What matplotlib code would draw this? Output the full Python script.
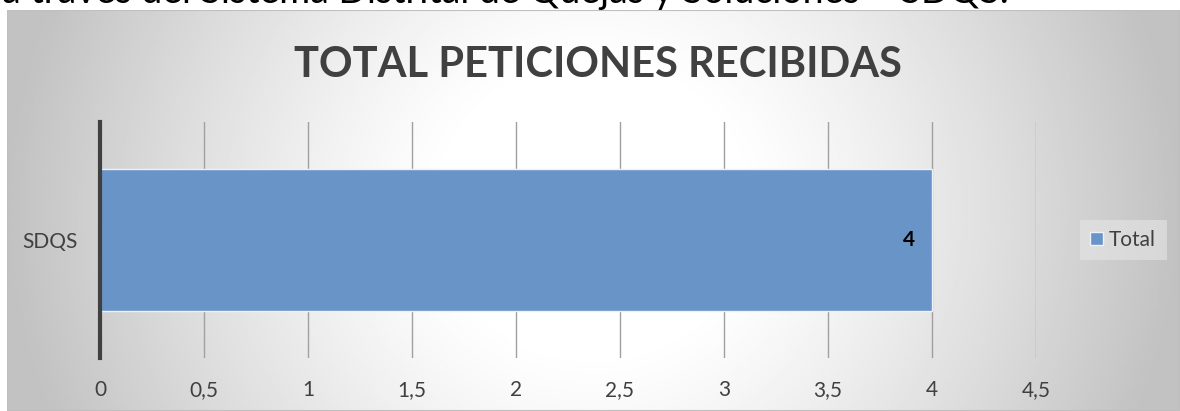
import numpy as np
import matplotlib
matplotlib.use("Agg")
import matplotlib.pyplot as plt
from matplotlib.patches import Rectangle

categorias = ["SDQS"]
valores = [4]
serie = "Total"
ticks_x = [0, 0.5, 1, 1.5, 2, 2.5, 3, 3.5, 4, 4.5]
etiquetas_x = ["0", "0,5", "1", "1,5", "2", "2,5", "3", "3,5", "4", "4,5"]
titulo = "TOTAL PETICIONES RECIBIDAS"
texto_superior = "a través del Sistema Distrital de Quejas y Soluciones – SDQS."

plt.rcParams['font.family'] = ['Lato', 'DejaVu Sans']

W, H = 1180, 411
fig = plt.figure(figsize=(W / 100, H / 100), dpi=100)
fig.patch.set_facecolor("white")

# fondo con degradado radial del gráfico
x0 = 7 / W
bg = fig.add_axes([x0, 0, 1 - x0, 1 - 10 / H])
bg.set_axis_off()
gx, gy = np.meshgrid(np.linspace(-1, 1, 600), np.linspace(-1, 1, 220))
r = np.sqrt(gx ** 2 + (gy / 2.8) ** 2)
v = 1 - 0.24 * np.clip((r - 0.25) / 0.75, 0, 1) ** 1.2
bg.imshow(v, cmap="gray", vmin=0, vmax=1, aspect="auto", extent=[0, 1, 0, 1])
bg.add_patch(Rectangle((0, 0), 1, 1, transform=bg.transAxes, fill=False,
                       edgecolor="#bfbfbf", linewidth=1.5))
bg.set_xlim(0, 1)
bg.set_ylim(0, 1)

# texto recortado encima del gráfico
fig.text(2 / W, 1 - 3 / H, texto_superior, fontsize=27, color="black",
         va="baseline", ha="left")

ax = fig.add_axes([100 / W, 1 - 358 / H, 936 / W, 236 / H])
ax.patch.set_alpha(0)
y = np.arange(len(categorias))
barras = ax.barh(y, valores, height=0.6, color="#6894c8", edgecolor="#eef2f8",
                 linewidth=1, label=serie, zorder=3)
ax.set_xlim(0, 4.5)
ax.set_ylim(-0.5, 0.5)
ax.set_xticks(ticks_x)
ax.set_xticklabels(etiquetas_x, fontsize=15, color="#404040")
ax.set_yticks(y)
ax.set_yticklabels(categorias, fontsize=15, color="#404040")
ax.tick_params(axis="both", length=0)
ax.tick_params(axis="x", pad=16)
ax.tick_params(axis="y", pad=16)
for lado in ["top", "right", "bottom"]:
    ax.spines[lado].set_visible(False)
ax.spines["left"].set_color("#404040")
ax.spines["left"].set_linewidth(3)
ax.spines["left"].set_zorder(4)
ax.grid(axis="x", color="#a0a0a0", linewidth=1, zorder=0)
ax.set_axisbelow(True)

for b, val in zip(barras, valores):
    ax.text(b.get_width() - 0.08, b.get_y() + b.get_height() / 2, str(val),
            ha="right", va="center", fontsize=15, fontweight="bold",
            color="black", zorder=5)

fig.text(598 / W, 1 - 65 / H, titulo, fontsize=30, fontweight="bold",
         color="#404040", ha="center", va="center")

leg = ax.legend(loc="center left", bbox_to_anchor=(980 / 936, 0.5),
                fontsize=15, frameon=True, handlelength=0.6, handleheight=0.6,
                handletextpad=0.3, borderpad=0.5, borderaxespad=0)
leg.get_frame().set_facecolor("#e6e6e6")
leg.get_frame().set_edgecolor("none")
leg.get_frame().set_alpha(0.6)
leg.get_frame().set_boxstyle("square", pad=0)
for t in leg.get_texts():
    t.set_color("#404040")

fig.savefig("out.png", dpi=100)
